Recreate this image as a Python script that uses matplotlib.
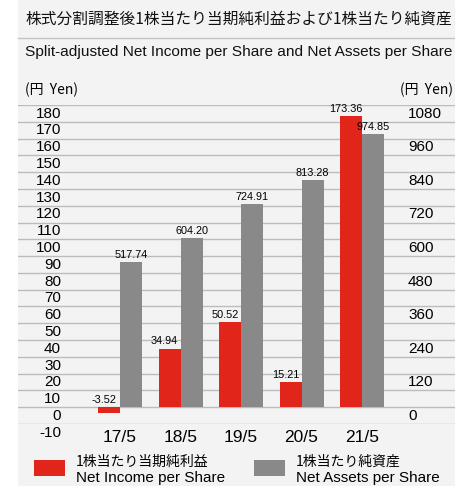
import matplotlib.pyplot as plt
from matplotlib.patches import Rectangle
from matplotlib.lines import Line2D
import numpy as np

years = ['17/5', '18/5', '19/5', '20/5', '21/5']
net_income = [-3.52, 34.94, 50.52, 15.21, 173.36]
net_assets = [517.74, 604.20, 724.91, 813.28, 974.85]
left_ticks = list(range(180, -20, -10))
right_ticks = list(range(1080, -1, -120))

RED = '#e1251b'
GRAY = '#898989'
BG = '#f3f3f3'
GRID = '#bcbcbc'
SANS = 'Liberation Sans'
JP = ['Noto Sans CJK JP', 'DejaVu Sans']

W, H = 455, 486
fig = plt.figure(figsize=(W / 100, H / 100), dpi=100)
fig.patch.set_facecolor('white')

def fx(px):
    return px / W

def fy(py):
    return 1 - py / H

fig.patches.append(Rectangle((fx(18), 0), 1 - fx(18), 1, transform=fig.transFigure,
                             facecolor=BG, edgecolor='none', zorder=-5))
fig.lines.append(Line2D([fx(18), 1], [fy(38), fy(38)], transform=fig.transFigure,
                        color='#c4c4c4', lw=1, zorder=-4))

fig.text(fx(25), fy(19), '株式分割調整後1株当たり当期純利益および1株当たり純資産',
         family=JP, fontsize=11.3, va='center', ha='left', color='#111111')
fig.text(fx(25), fy(52), 'Split-adjusted Net Income per Share and Net Assets per Share',
         family=SANS, fontsize=11.1, va='center', ha='left', color='#111111')
fig.text(fx(25), fy(90), '(円  Yen)', family=JP, fontsize=10, va='center', ha='left')
fig.text(fx(453), fy(90), '(円  Yen)', family=JP, fontsize=10, va='center', ha='right')

ax = fig.add_axes([fx(18), fy(424), 1 - fx(18), fy(105) - fy(424)])
ax.set_facecolor('none')
ax.set_ylim(-10, 180)
# category spacing ~60.5 px, first group centred at x=120 px
sp = 60.5
ax.set_xlim(-102 / sp, (W - 120) / sp)
for s in ax.spines.values():
    s.set_visible(False)
ax.set_xticks([])
ax.set_yticks([])

for v in left_ticks:
    ax.axhline(v, color=GRID, lw=1, zorder=1)

x = np.arange(len(years))
bw = 22 / sp
ax.bar(x - bw / 2, net_income, bw, color=RED, zorder=3)
ax.bar(x + bw / 2, [a / 6 for a in net_assets], bw, color=GRAY, zorder=3)

for i in range(len(years)):
    ax.annotate(f'{net_income[i]:.2f}', (x[i] - bw / 2, max(net_income[i], 0)),
                xytext=(-3.5, 1.5), textcoords='offset points', ha='center', va='bottom',
                family=SANS, fontsize=7.8, zorder=4)
    ax.annotate(f'{net_assets[i]:.2f}', (x[i] + bw / 2, net_assets[i] / 6),
                xytext=(0, 1.5), textcoords='offset points', ha='center', va='bottom',
                family=SANS, fontsize=7.8, zorder=4)
    ax.annotate(years[i], (x[i], -10), xytext=(0, -4), textcoords='offset points',
                ha='center', va='top', family=SANS, fontsize=12.5)

for v in left_ticks:
    ax.annotate(str(v), ((61 - 18) / (W - 18), v), xycoords=('axes fraction', 'data'),
                xytext=(0, -1.2), textcoords='offset points', ha='right', va='top',
                family=SANS, fontsize=11)
for v in right_ticks:
    ax.annotate(str(v), ((408 - 18) / (W - 18), v / 6), xycoords=('axes fraction', 'data'),
                xytext=(0, -1.2), textcoords='offset points', ha='left', va='top',
                family=SANS, fontsize=11)

# legend
fig.patches.append(Rectangle((fx(34), fy(476)), fx(31), fy(460) - fy(476),
                             transform=fig.transFigure, facecolor=RED, edgecolor='none'))
fig.patches.append(Rectangle((fx(254), fy(476)), fx(31), fy(460) - fy(476),
                             transform=fig.transFigure, facecolor=GRAY, edgecolor='none'))
fig.text(fx(76), fy(462), '1株当たり当期純利益', family=JP, fontsize=10, va='center')
fig.text(fx(76), fy(478), 'Net Income per Share', family=SANS, fontsize=11, va='center')
fig.text(fx(296), fy(462), '1株当たり純資産', family=JP, fontsize=10, va='center')
fig.text(fx(296), fy(478), 'Net Assets per Share', family=SANS, fontsize=11, va='center')

fig.savefig('out.png', dpi=100)
